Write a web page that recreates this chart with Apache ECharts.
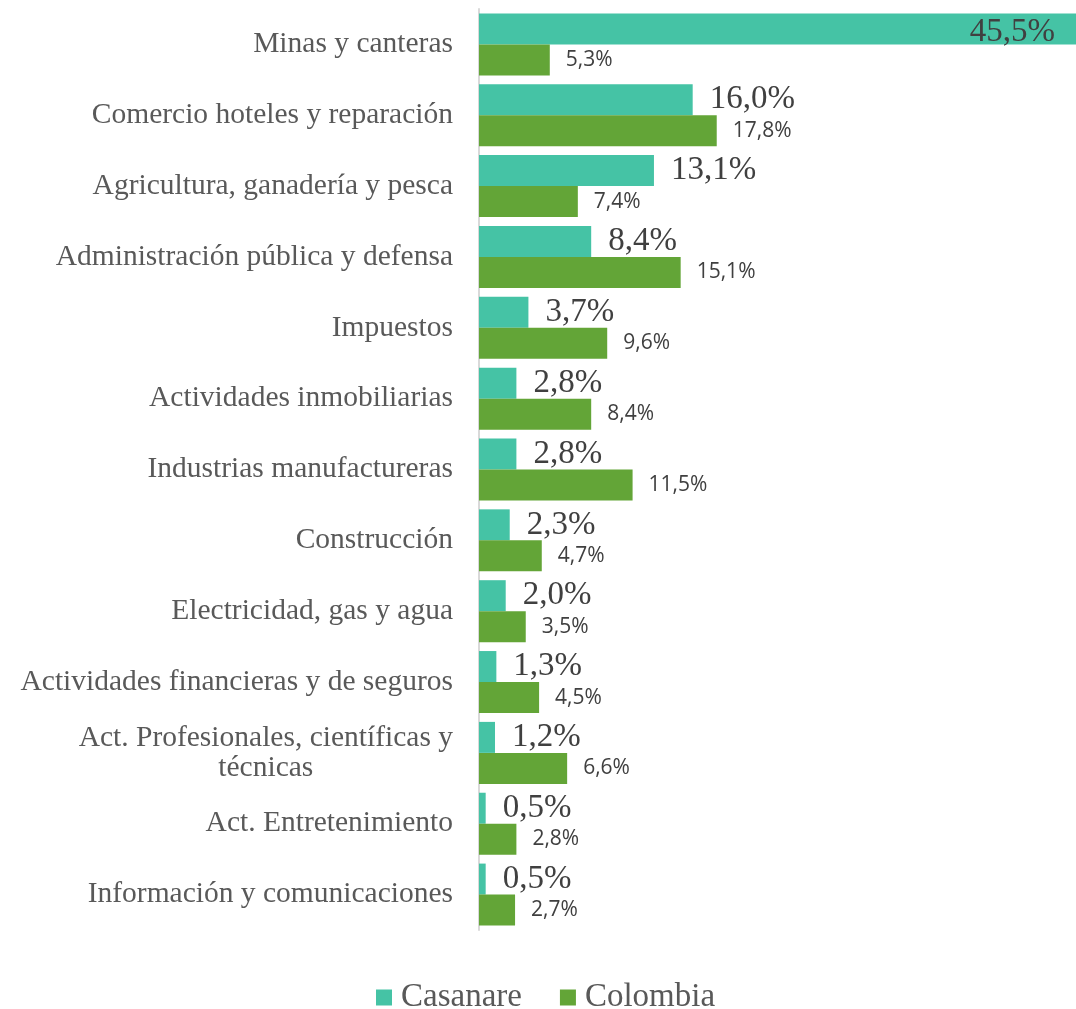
<!DOCTYPE html>
<html>
<head>
<meta charset="utf-8">
<script src="https://cdn.jsdelivr.net/npm/echarts@6/dist/echarts.min.js"></script>
<style>
  html, body { margin: 0; padding: 0; background: #fff; }
  #main { width: 1076px; height: 1009px; }
</style>
</head>
<body>
<div id="main"></div>
<script>
const categories = [
  "Minas y canteras",
  "Comercio hoteles y reparación",
  "Agricultura, ganadería y pesca",
  "Administración pública y defensa",
  "Impuestos",
  "Actividades inmobiliarias",
  "Industrias manufactureras",
  "Construcción",
  "Electricidad, gas y agua",
  "Actividades financieras y de seguros",
  "Act. Profesionales, científicas y\ntécnicas",
  "Act. Entretenimiento",
  "Información y comunicaciones"
];
const casanare = [45.5, 16.0, 13.1, 8.4, 3.7, 2.8, 2.8, 2.3, 2.0, 1.3, 1.2, 0.5, 0.5];
const colombia = [5.3, 17.8, 7.4, 15.1, 9.6, 8.4, 11.5, 4.7, 3.5, 4.5, 6.6, 2.8, 2.7];

const pct = v => v.toFixed(1).replace(".", ",") + "%";
const serif = "'Liberation Serif', serif";

// the biggest bar runs past the right edge, its label sits inside
const casanareData = casanare.map((v, i) => i === 0
  ? { value: v, label: { position: "insideRight", distance: 21, offset: [0, 3] } }
  : v);

const chart = echarts.init(document.getElementById("main"));
chart.setOption({
  animation: false,
  grid: { left: 479, right: 0, top: 9, bottom: 79 },
  xAxis: {
    type: "value", min: 0, max: 44.7,
    show: false
  },
  yAxis: {
    type: "category",
    inverse: true,
    data: categories,
    axisLine: { lineStyle: { color: "#d9d9d9", width: 2 } },
    axisTick: { show: false },
    axisLabel: {
      margin: 26,
      fontFamily: serif,
      fontSize: 29.5,
      color: "#595959",
      formatter: v => "{c|" + v + "}",
      rich: { c: { align: "center", fontFamily: serif, fontSize: 29.5, color: "#595959", lineHeight: 30 } }
    }
  },
  legend: {
    top: 976,
    left: 371,
    itemWidth: 16,
    itemHeight: 16,
    itemGap: 38,
    icon: "rect",
    textStyle: { fontFamily: serif, fontSize: 33, color: "#595959", padding: [0, 0, 0, 4] },
    data: ["Casanare", "Colombia"]
  },
  series: [
    {
      name: "Casanare",
      type: "bar",
      data: casanareData,
      barGap: "0%",
      barCategoryGap: "12.5%",
      itemStyle: { color: "#45C3A5" },
      label: {
        show: true, position: "right", distance: 17,
        fontFamily: serif, fontSize: 33, color: "#404040",
        formatter: p => pct(p.value)
      }
    },
    {
      name: "Colombia",
      type: "bar",
      data: colombia,
      barGap: "0%",
      barCategoryGap: "12.5%",
      itemStyle: { color: "#63A537" },
      label: {
        show: true, position: "right", distance: 16,
        fontFamily: "'Open Sans', sans-serif", fontSize: 21, color: "#404040",
        formatter: p => pct(p.value)
      }
    }
  ]
});
</script>
</body>
</html>
